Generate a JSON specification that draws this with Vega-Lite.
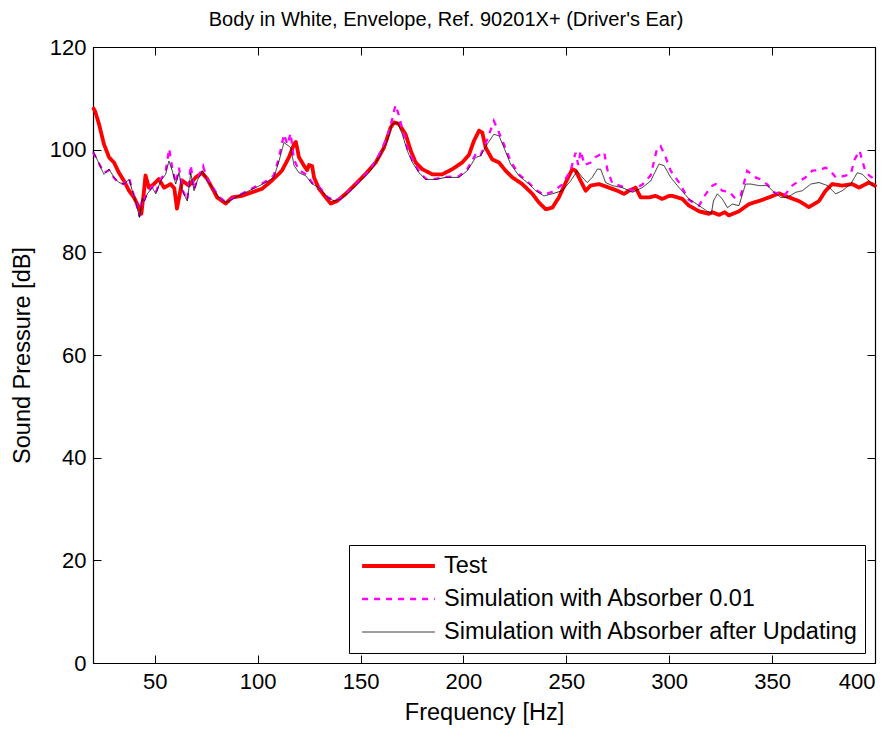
{
  "$schema": "https://vega.github.io/schema/vega-lite/v6.json",
  "autosize": {"type": "none"},
  "padding": {"left": 93, "top": 47, "right": 21, "bottom": 66},
  "width": 782,
  "height": 616,
  "background": "white",
  "title": {"text": "Body in White, Envelope, Ref. 90201X+ (Driver's Ear)", "fontSize": 20, "fontWeight": "normal", "font": "Liberation Sans", "color": "black", "offset": 6, "dx": -38},
  "config": {
    "font": "Liberation Sans",
    "view": {"stroke": "black", "strokeWidth": 1},
    "axis": {"grid": false, "domainColor": "black", "tickColor": "black", "labelColor": "black", "titleColor": "black", "labelFontSize": 22, "titleFontSize": 23.5, "titleFontWeight": "normal", "labelFont": "Liberation Sans", "titleFont": "Liberation Sans", "tickSize": -8, "domainWidth": 1.2, "tickWidth": 1},
    "legend": {"rowPadding": 3, "clipHeight": 30, "padding": 6, "symbolOffset": 5, "labelFontSize": 23.5}
  },
  "datasets": {
    "curves": [
      {"s": "Test", "f": 20.3, "db": 108}, {"s": "Test", "f": 21, "db": 107.5}, {"s": "Test", "f": 22.9, "db": 105}, {"s": "Test", "f": 25.3, "db": 101.1}, {"s": "Test", "f": 27.8, "db": 98.5}, {"s": "Test", "f": 30.2, "db": 97.5}, {"s": "Test", "f": 32.6, "db": 95.5}, {"s": "Test", "f": 35.1, "db": 93.9}, {"s": "Test", "f": 37.5, "db": 92}, {"s": "Test", "f": 39.9, "db": 90.7}, {"s": "Test", "f": 42.4, "db": 88.7}, {"s": "Test", "f": 43.5, "db": 87.5}, {"s": "Test", "f": 44.8, "db": 92}, {"s": "Test", "f": 45.5, "db": 95}, {"s": "Test", "f": 47.2, "db": 92.6}, {"s": "Test", "f": 49.6, "db": 93.3}, {"s": "Test", "f": 52, "db": 94.3}, {"s": "Test", "f": 54.5, "db": 92.6}, {"s": "Test", "f": 57.7, "db": 93.3}, {"s": "Test", "f": 59.5, "db": 92.5}, {"s": "Test", "f": 60.8, "db": 88.5}, {"s": "Test", "f": 62, "db": 91}, {"s": "Test", "f": 63.3, "db": 94}, {"s": "Test", "f": 66.6, "db": 93}, {"s": "Test", "f": 69.9, "db": 94.6}, {"s": "Test", "f": 73, "db": 95.5}, {"s": "Test", "f": 75.5, "db": 94.3}, {"s": "Test", "f": 77.8, "db": 92.6}, {"s": "Test", "f": 80.3, "db": 90.7}, {"s": "Test", "f": 84.5, "db": 89.5}, {"s": "Test", "f": 87.6, "db": 90.7}, {"s": "Test", "f": 92.4, "db": 91}, {"s": "Test", "f": 97.3, "db": 91.7}, {"s": "Test", "f": 102.2, "db": 92.4}, {"s": "Test", "f": 107, "db": 94}, {"s": "Test", "f": 111.8, "db": 95.9}, {"s": "Test", "f": 115.2, "db": 98.5}, {"s": "Test", "f": 117.7, "db": 101.1}, {"s": "Test", "f": 118.6, "db": 101.5}, {"s": "Test", "f": 120.1, "db": 98.5}, {"s": "Test", "f": 122.5, "db": 96.9}, {"s": "Test", "f": 124, "db": 96}, {"s": "Test", "f": 125, "db": 97}, {"s": "Test", "f": 126.5, "db": 96.8}, {"s": "Test", "f": 127.4, "db": 94.6}, {"s": "Test", "f": 129.8, "db": 92.4}, {"s": "Test", "f": 133.1, "db": 90.7}, {"s": "Test", "f": 135.5, "db": 89.5}, {"s": "Test", "f": 138.6, "db": 90}, {"s": "Test", "f": 142.8, "db": 91.4}, {"s": "Test", "f": 147.6, "db": 93.3}, {"s": "Test", "f": 152.5, "db": 95.3}, {"s": "Test", "f": 157.4, "db": 97.5}, {"s": "Test", "f": 161.4, "db": 100.4}, {"s": "Test", "f": 164.6, "db": 104.3}, {"s": "Test", "f": 166.3, "db": 105.3}, {"s": "Test", "f": 168.7, "db": 105}, {"s": "Test", "f": 171.9, "db": 103}, {"s": "Test", "f": 174.4, "db": 99.8}, {"s": "Test", "f": 176.8, "db": 97.5}, {"s": "Test", "f": 180, "db": 96.2}, {"s": "Test", "f": 184.9, "db": 95.2}, {"s": "Test", "f": 189.7, "db": 95.2}, {"s": "Test", "f": 194.6, "db": 96.2}, {"s": "Test", "f": 199.4, "db": 97.5}, {"s": "Test", "f": 202.7, "db": 99}, {"s": "Test", "f": 205.1, "db": 101.7}, {"s": "Test", "f": 207.6, "db": 103.7}, {"s": "Test", "f": 209.2, "db": 103.3}, {"s": "Test", "f": 210.8, "db": 100.4}, {"s": "Test", "f": 214, "db": 98.1}, {"s": "Test", "f": 217.3, "db": 97.5}, {"s": "Test", "f": 220.5, "db": 95.9}, {"s": "Test", "f": 223.8, "db": 94.6}, {"s": "Test", "f": 228.6, "db": 93.3}, {"s": "Test", "f": 233.5, "db": 91.4}, {"s": "Test", "f": 236.7, "db": 89.7}, {"s": "Test", "f": 240, "db": 88.4}, {"s": "Test", "f": 243.2, "db": 88.7}, {"s": "Test", "f": 246.4, "db": 90.7}, {"s": "Test", "f": 249.7, "db": 93.6}, {"s": "Test", "f": 252.9, "db": 96.2}, {"s": "Test", "f": 254.5, "db": 95.9}, {"s": "Test", "f": 257, "db": 93.9}, {"s": "Test", "f": 259.4, "db": 92}, {"s": "Test", "f": 261.8, "db": 93}, {"s": "Test", "f": 265.9, "db": 93.3}, {"s": "Test", "f": 270.7, "db": 92.6}, {"s": "Test", "f": 274.8, "db": 92}, {"s": "Test", "f": 278, "db": 91.4}, {"s": "Test", "f": 280.5, "db": 92}, {"s": "Test", "f": 283.7, "db": 92.6}, {"s": "Test", "f": 286.1, "db": 90.7}, {"s": "Test", "f": 290.2, "db": 90.7}, {"s": "Test", "f": 293.4, "db": 91}, {"s": "Test", "f": 296.6, "db": 90.4}, {"s": "Test", "f": 299.9, "db": 91}, {"s": "Test", "f": 301.5, "db": 91}, {"s": "Test", "f": 306.4, "db": 90.4}, {"s": "Test", "f": 309.6, "db": 89.1}, {"s": "Test", "f": 314.5, "db": 88}, {"s": "Test", "f": 319.3, "db": 87.5}, {"s": "Test", "f": 321, "db": 87.8}, {"s": "Test", "f": 324.2, "db": 87.3}, {"s": "Test", "f": 327, "db": 87.8}, {"s": "Test", "f": 329, "db": 87.2}, {"s": "Test", "f": 333.9, "db": 88}, {"s": "Test", "f": 338.8, "db": 89.4}, {"s": "Test", "f": 343.6, "db": 90}, {"s": "Test", "f": 348.5, "db": 90.7}, {"s": "Test", "f": 353.3, "db": 91.5}, {"s": "Test", "f": 358.2, "db": 90.7}, {"s": "Test", "f": 363, "db": 90}, {"s": "Test", "f": 367.9, "db": 88.8}, {"s": "Test", "f": 372.8, "db": 90}, {"s": "Test", "f": 376, "db": 92}, {"s": "Test", "f": 379.2, "db": 93.3}, {"s": "Test", "f": 384.1, "db": 93}, {"s": "Test", "f": 389, "db": 93.3}, {"s": "Test", "f": 392.2, "db": 92.6}, {"s": "Test", "f": 397, "db": 93.6}, {"s": "Test", "f": 400, "db": 93},

      {"s": "Simulation with Absorber 0.01", "f": 20, "db": 99.5}, {"s": "Simulation with Absorber 0.01", "f": 22, "db": 98}, {"s": "Simulation with Absorber 0.01", "f": 25.3, "db": 95.5}, {"s": "Simulation with Absorber 0.01", "f": 27.8, "db": 96}, {"s": "Simulation with Absorber 0.01", "f": 30.2, "db": 94.5}, {"s": "Simulation with Absorber 0.01", "f": 32.6, "db": 93.5}, {"s": "Simulation with Absorber 0.01", "f": 35.1, "db": 93.3}, {"s": "Simulation with Absorber 0.01", "f": 37.5, "db": 94.5}, {"s": "Simulation with Absorber 0.01", "f": 39.1, "db": 92.2}, {"s": "Simulation with Absorber 0.01", "f": 41, "db": 89.5}, {"s": "Simulation with Absorber 0.01", "f": 42.6, "db": 87}, {"s": "Simulation with Absorber 0.01", "f": 44, "db": 90.8}, {"s": "Simulation with Absorber 0.01", "f": 45, "db": 90.3}, {"s": "Simulation with Absorber 0.01", "f": 46.4, "db": 91.6}, {"s": "Simulation with Absorber 0.01", "f": 48.8, "db": 92.8}, {"s": "Simulation with Absorber 0.01", "f": 50.5, "db": 91.6}, {"s": "Simulation with Absorber 0.01", "f": 52.9, "db": 94.2}, {"s": "Simulation with Absorber 0.01", "f": 55.3, "db": 95.8}, {"s": "Simulation with Absorber 0.01", "f": 57, "db": 100.2}, {"s": "Simulation with Absorber 0.01", "f": 58.5, "db": 96.5}, {"s": "Simulation with Absorber 0.01", "f": 60.2, "db": 93.5}, {"s": "Simulation with Absorber 0.01", "f": 61.8, "db": 96.5}, {"s": "Simulation with Absorber 0.01", "f": 63.4, "db": 92.2}, {"s": "Simulation with Absorber 0.01", "f": 65.8, "db": 90.2}, {"s": "Simulation with Absorber 0.01", "f": 67.5, "db": 97}, {"s": "Simulation with Absorber 0.01", "f": 69.1, "db": 92.2}, {"s": "Simulation with Absorber 0.01", "f": 70.7, "db": 94.2}, {"s": "Simulation with Absorber 0.01", "f": 73.5, "db": 96.8}, {"s": "Simulation with Absorber 0.01", "f": 75.5, "db": 94.2}, {"s": "Simulation with Absorber 0.01", "f": 78, "db": 92.8}, {"s": "Simulation with Absorber 0.01", "f": 81.2, "db": 90.8}, {"s": "Simulation with Absorber 0.01", "f": 84.5, "db": 89.8}, {"s": "Simulation with Absorber 0.01", "f": 89.3, "db": 90.8}, {"s": "Simulation with Absorber 0.01", "f": 94.2, "db": 91.8}, {"s": "Simulation with Absorber 0.01", "f": 99, "db": 92.8}, {"s": "Simulation with Absorber 0.01", "f": 103.9, "db": 93.8}, {"s": "Simulation with Absorber 0.01", "f": 107.9, "db": 95}, {"s": "Simulation with Absorber 0.01", "f": 110.4, "db": 98.5}, {"s": "Simulation with Absorber 0.01", "f": 112.8, "db": 103}, {"s": "Simulation with Absorber 0.01", "f": 114.5, "db": 101}, {"s": "Simulation with Absorber 0.01", "f": 116, "db": 103.2}, {"s": "Simulation with Absorber 0.01", "f": 117.7, "db": 98}, {"s": "Simulation with Absorber 0.01", "f": 120.1, "db": 96}, {"s": "Simulation with Absorber 0.01", "f": 123.4, "db": 95.2}, {"s": "Simulation with Absorber 0.01", "f": 126.6, "db": 93.5}, {"s": "Simulation with Absorber 0.01", "f": 129.8, "db": 92.8}, {"s": "Simulation with Absorber 0.01", "f": 133.9, "db": 90.8}, {"s": "Simulation with Absorber 0.01", "f": 137.1, "db": 90.1}, {"s": "Simulation with Absorber 0.01", "f": 140.4, "db": 90.5}, {"s": "Simulation with Absorber 0.01", "f": 145.2, "db": 92.2}, {"s": "Simulation with Absorber 0.01", "f": 150.1, "db": 94.2}, {"s": "Simulation with Absorber 0.01", "f": 154.9, "db": 96.2}, {"s": "Simulation with Absorber 0.01", "f": 159, "db": 99}, {"s": "Simulation with Absorber 0.01", "f": 163, "db": 102.5}, {"s": "Simulation with Absorber 0.01", "f": 165.4, "db": 106}, {"s": "Simulation with Absorber 0.01", "f": 167, "db": 108.7}, {"s": "Simulation with Absorber 0.01", "f": 168.7, "db": 106.6}, {"s": "Simulation with Absorber 0.01", "f": 170.3, "db": 104}, {"s": "Simulation with Absorber 0.01", "f": 172.7, "db": 100.5}, {"s": "Simulation with Absorber 0.01", "f": 175.2, "db": 98}, {"s": "Simulation with Absorber 0.01", "f": 178.4, "db": 95.8}, {"s": "Simulation with Absorber 0.01", "f": 181.7, "db": 94.3}, {"s": "Simulation with Absorber 0.01", "f": 186.5, "db": 94.3}, {"s": "Simulation with Absorber 0.01", "f": 191.4, "db": 94.7}, {"s": "Simulation with Absorber 0.01", "f": 197.8, "db": 94.8}, {"s": "Simulation with Absorber 0.01", "f": 201.9, "db": 96.2}, {"s": "Simulation with Absorber 0.01", "f": 206.5, "db": 99.5}, {"s": "Simulation with Absorber 0.01", "f": 208.4, "db": 99}, {"s": "Simulation with Absorber 0.01", "f": 211.6, "db": 102}, {"s": "Simulation with Absorber 0.01", "f": 214.8, "db": 105.6}, {"s": "Simulation with Absorber 0.01", "f": 217.3, "db": 103.3}, {"s": "Simulation with Absorber 0.01", "f": 219.7, "db": 101}, {"s": "Simulation with Absorber 0.01", "f": 222.9, "db": 97.8}, {"s": "Simulation with Absorber 0.01", "f": 227, "db": 95.2}, {"s": "Simulation with Absorber 0.01", "f": 231.9, "db": 93.5}, {"s": "Simulation with Absorber 0.01", "f": 235.1, "db": 92.2}, {"s": "Simulation with Absorber 0.01", "f": 239.1, "db": 91.2}, {"s": "Simulation with Absorber 0.01", "f": 243.2, "db": 91.8}, {"s": "Simulation with Absorber 0.01", "f": 248, "db": 93.2}, {"s": "Simulation with Absorber 0.01", "f": 252.1, "db": 96}, {"s": "Simulation with Absorber 0.01", "f": 254.5, "db": 99.4}, {"s": "Simulation with Absorber 0.01", "f": 255.8, "db": 97}, {"s": "Simulation with Absorber 0.01", "f": 257, "db": 99.8}, {"s": "Simulation with Absorber 0.01", "f": 258.8, "db": 97}, {"s": "Simulation with Absorber 0.01", "f": 261.8, "db": 97.5}, {"s": "Simulation with Absorber 0.01", "f": 264, "db": 98.5}, {"s": "Simulation with Absorber 0.01", "f": 268.4, "db": 99.5}, {"s": "Simulation with Absorber 0.01", "f": 270, "db": 96}, {"s": "Simulation with Absorber 0.01", "f": 272.3, "db": 93.5}, {"s": "Simulation with Absorber 0.01", "f": 277.2, "db": 92.8}, {"s": "Simulation with Absorber 0.01", "f": 282.1, "db": 92}, {"s": "Simulation with Absorber 0.01", "f": 286.9, "db": 93.2}, {"s": "Simulation with Absorber 0.01", "f": 291, "db": 95}, {"s": "Simulation with Absorber 0.01", "f": 294.2, "db": 100.4}, {"s": "Simulation with Absorber 0.01", "f": 295.8, "db": 100.7}, {"s": "Simulation with Absorber 0.01", "f": 298, "db": 98.8}, {"s": "Simulation with Absorber 0.01", "f": 300.7, "db": 95.9}, {"s": "Simulation with Absorber 0.01", "f": 304.8, "db": 93.6}, {"s": "Simulation with Absorber 0.01", "f": 309.6, "db": 90.2}, {"s": "Simulation with Absorber 0.01", "f": 314.5, "db": 89.1}, {"s": "Simulation with Absorber 0.01", "f": 318, "db": 91.5}, {"s": "Simulation with Absorber 0.01", "f": 321, "db": 93}, {"s": "Simulation with Absorber 0.01", "f": 322.6, "db": 93.3}, {"s": "Simulation with Absorber 0.01", "f": 325.8, "db": 92}, {"s": "Simulation with Absorber 0.01", "f": 329.5, "db": 91.7}, {"s": "Simulation with Absorber 0.01", "f": 332, "db": 90.5}, {"s": "Simulation with Absorber 0.01", "f": 334.7, "db": 91}, {"s": "Simulation with Absorber 0.01", "f": 337.9, "db": 95.9}, {"s": "Simulation with Absorber 0.01", "f": 342, "db": 94.6}, {"s": "Simulation with Absorber 0.01", "f": 344.5, "db": 94.2}, {"s": "Simulation with Absorber 0.01", "f": 347.7, "db": 93.2}, {"s": "Simulation with Absorber 0.01", "f": 350.9, "db": 91.7}, {"s": "Simulation with Absorber 0.01", "f": 355.8, "db": 91}, {"s": "Simulation with Absorber 0.01", "f": 359.8, "db": 93}, {"s": "Simulation with Absorber 0.01", "f": 363, "db": 93.9}, {"s": "Simulation with Absorber 0.01", "f": 366, "db": 94.5}, {"s": "Simulation with Absorber 0.01", "f": 369.5, "db": 95.9}, {"s": "Simulation with Absorber 0.01", "f": 373, "db": 96}, {"s": "Simulation with Absorber 0.01", "f": 376, "db": 96.5}, {"s": "Simulation with Absorber 0.01", "f": 378.5, "db": 95.8}, {"s": "Simulation with Absorber 0.01", "f": 380.9, "db": 94.6}, {"s": "Simulation with Absorber 0.01", "f": 384.1, "db": 94.8}, {"s": "Simulation with Absorber 0.01", "f": 388.2, "db": 95.2}, {"s": "Simulation with Absorber 0.01", "f": 390.1, "db": 98.1}, {"s": "Simulation with Absorber 0.01", "f": 392.5, "db": 99.8}, {"s": "Simulation with Absorber 0.01", "f": 395, "db": 96.2}, {"s": "Simulation with Absorber 0.01", "f": 397.1, "db": 95}, {"s": "Simulation with Absorber 0.01", "f": 400, "db": 94.2},

      {"s": "Simulation with Absorber after Updating", "f": 20, "db": 99.8}, {"s": "Simulation with Absorber after Updating", "f": 22, "db": 98.1}, {"s": "Simulation with Absorber after Updating", "f": 25.3, "db": 95.2}, {"s": "Simulation with Absorber after Updating", "f": 27.8, "db": 96.2}, {"s": "Simulation with Absorber after Updating", "f": 30.2, "db": 94.6}, {"s": "Simulation with Absorber after Updating", "f": 32.6, "db": 93.6}, {"s": "Simulation with Absorber after Updating", "f": 35.1, "db": 93.3}, {"s": "Simulation with Absorber after Updating", "f": 37.5, "db": 94.2}, {"s": "Simulation with Absorber after Updating", "f": 39.1, "db": 92}, {"s": "Simulation with Absorber after Updating", "f": 41, "db": 89.5}, {"s": "Simulation with Absorber after Updating", "f": 42.6, "db": 86.8}, {"s": "Simulation with Absorber after Updating", "f": 44, "db": 90.5}, {"s": "Simulation with Absorber after Updating", "f": 45, "db": 90}, {"s": "Simulation with Absorber after Updating", "f": 46.4, "db": 91.4}, {"s": "Simulation with Absorber after Updating", "f": 48.8, "db": 92.6}, {"s": "Simulation with Absorber after Updating", "f": 50.5, "db": 91.4}, {"s": "Simulation with Absorber after Updating", "f": 52.9, "db": 93.9}, {"s": "Simulation with Absorber after Updating", "f": 55.3, "db": 95.2}, {"s": "Simulation with Absorber after Updating", "f": 56.9, "db": 97.8}, {"s": "Simulation with Absorber after Updating", "f": 58.5, "db": 95.9}, {"s": "Simulation with Absorber after Updating", "f": 60.2, "db": 93.3}, {"s": "Simulation with Absorber after Updating", "f": 61.8, "db": 95.5}, {"s": "Simulation with Absorber after Updating", "f": 63.4, "db": 92}, {"s": "Simulation with Absorber after Updating", "f": 65.8, "db": 90}, {"s": "Simulation with Absorber after Updating", "f": 67.5, "db": 95.5}, {"s": "Simulation with Absorber after Updating", "f": 69.1, "db": 92}, {"s": "Simulation with Absorber after Updating", "f": 70.7, "db": 94}, {"s": "Simulation with Absorber after Updating", "f": 73.1, "db": 95.9}, {"s": "Simulation with Absorber after Updating", "f": 75.5, "db": 94}, {"s": "Simulation with Absorber after Updating", "f": 78, "db": 92.6}, {"s": "Simulation with Absorber after Updating", "f": 81.2, "db": 90.7}, {"s": "Simulation with Absorber after Updating", "f": 84.5, "db": 89.7}, {"s": "Simulation with Absorber after Updating", "f": 89.3, "db": 90.7}, {"s": "Simulation with Absorber after Updating", "f": 94.2, "db": 91.7}, {"s": "Simulation with Absorber after Updating", "f": 99, "db": 92.6}, {"s": "Simulation with Absorber after Updating", "f": 103.9, "db": 93.6}, {"s": "Simulation with Absorber after Updating", "f": 107.9, "db": 94.6}, {"s": "Simulation with Absorber after Updating", "f": 110.4, "db": 97.8}, {"s": "Simulation with Absorber after Updating", "f": 112.8, "db": 101.4}, {"s": "Simulation with Absorber after Updating", "f": 116.1, "db": 100.4}, {"s": "Simulation with Absorber after Updating", "f": 117.7, "db": 96.9}, {"s": "Simulation with Absorber after Updating", "f": 120.1, "db": 95.5}, {"s": "Simulation with Absorber after Updating", "f": 123.4, "db": 94.9}, {"s": "Simulation with Absorber after Updating", "f": 126.6, "db": 93.3}, {"s": "Simulation with Absorber after Updating", "f": 129.8, "db": 92.6}, {"s": "Simulation with Absorber after Updating", "f": 133.9, "db": 90.7}, {"s": "Simulation with Absorber after Updating", "f": 137.1, "db": 90}, {"s": "Simulation with Absorber after Updating", "f": 140.4, "db": 90.4}, {"s": "Simulation with Absorber after Updating", "f": 145.2, "db": 92}, {"s": "Simulation with Absorber after Updating", "f": 150.1, "db": 94}, {"s": "Simulation with Absorber after Updating", "f": 154.9, "db": 95.9}, {"s": "Simulation with Absorber after Updating", "f": 159, "db": 98.5}, {"s": "Simulation with Absorber after Updating", "f": 163, "db": 101.7}, {"s": "Simulation with Absorber after Updating", "f": 165.4, "db": 105}, {"s": "Simulation with Absorber after Updating", "f": 167.9, "db": 105.3}, {"s": "Simulation with Absorber after Updating", "f": 170.3, "db": 103}, {"s": "Simulation with Absorber after Updating", "f": 172.7, "db": 99.8}, {"s": "Simulation with Absorber after Updating", "f": 175.2, "db": 97.5}, {"s": "Simulation with Absorber after Updating", "f": 178.4, "db": 95.5}, {"s": "Simulation with Absorber after Updating", "f": 181.7, "db": 94.2}, {"s": "Simulation with Absorber after Updating", "f": 186.5, "db": 94.2}, {"s": "Simulation with Absorber after Updating", "f": 191.4, "db": 94.6}, {"s": "Simulation with Absorber after Updating", "f": 197.8, "db": 94.6}, {"s": "Simulation with Absorber after Updating", "f": 201.9, "db": 95.9}, {"s": "Simulation with Absorber after Updating", "f": 206, "db": 98.5}, {"s": "Simulation with Absorber after Updating", "f": 208.4, "db": 98.8}, {"s": "Simulation with Absorber after Updating", "f": 211.6, "db": 101.1}, {"s": "Simulation with Absorber after Updating", "f": 214.8, "db": 103}, {"s": "Simulation with Absorber after Updating", "f": 217.3, "db": 102.7}, {"s": "Simulation with Absorber after Updating", "f": 219.7, "db": 100.4}, {"s": "Simulation with Absorber after Updating", "f": 222.9, "db": 97.2}, {"s": "Simulation with Absorber after Updating", "f": 227, "db": 94.9}, {"s": "Simulation with Absorber after Updating", "f": 231.9, "db": 93.3}, {"s": "Simulation with Absorber after Updating", "f": 235.1, "db": 92}, {"s": "Simulation with Absorber after Updating", "f": 239.1, "db": 91}, {"s": "Simulation with Absorber after Updating", "f": 243.2, "db": 91.4}, {"s": "Simulation with Absorber after Updating", "f": 248, "db": 92}, {"s": "Simulation with Absorber after Updating", "f": 252.1, "db": 93.9}, {"s": "Simulation with Absorber after Updating", "f": 255.3, "db": 95.9}, {"s": "Simulation with Absorber after Updating", "f": 257.8, "db": 94.6}, {"s": "Simulation with Absorber after Updating", "f": 260.2, "db": 93.6}, {"s": "Simulation with Absorber after Updating", "f": 262.6, "db": 94.6}, {"s": "Simulation with Absorber after Updating", "f": 265.1, "db": 96.2}, {"s": "Simulation with Absorber after Updating", "f": 266.7, "db": 96.2}, {"s": "Simulation with Absorber after Updating", "f": 269.1, "db": 93.6}, {"s": "Simulation with Absorber after Updating", "f": 272.3, "db": 93}, {"s": "Simulation with Absorber after Updating", "f": 277.2, "db": 92.6}, {"s": "Simulation with Absorber after Updating", "f": 282.1, "db": 91.7}, {"s": "Simulation with Absorber after Updating", "f": 286.9, "db": 92.6}, {"s": "Simulation with Absorber after Updating", "f": 291, "db": 93.9}, {"s": "Simulation with Absorber after Updating", "f": 295, "db": 97.2}, {"s": "Simulation with Absorber after Updating", "f": 297.5, "db": 96.9}, {"s": "Simulation with Absorber after Updating", "f": 300.7, "db": 94.6}, {"s": "Simulation with Absorber after Updating", "f": 304.8, "db": 92.6}, {"s": "Simulation with Absorber after Updating", "f": 309.6, "db": 90.4}, {"s": "Simulation with Absorber after Updating", "f": 314.5, "db": 89.1}, {"s": "Simulation with Absorber after Updating", "f": 318.5, "db": 88}, {"s": "Simulation with Absorber after Updating", "f": 320.5, "db": 87.6}, {"s": "Simulation with Absorber after Updating", "f": 321.5, "db": 90}, {"s": "Simulation with Absorber after Updating", "f": 323.4, "db": 91.4}, {"s": "Simulation with Absorber after Updating", "f": 325.8, "db": 90.4}, {"s": "Simulation with Absorber after Updating", "f": 328.3, "db": 88.7}, {"s": "Simulation with Absorber after Updating", "f": 330.7, "db": 89.4}, {"s": "Simulation with Absorber after Updating", "f": 333.9, "db": 89.1}, {"s": "Simulation with Absorber after Updating", "f": 337.1, "db": 93.3}, {"s": "Simulation with Absorber after Updating", "f": 339.6, "db": 93.3}, {"s": "Simulation with Absorber after Updating", "f": 343.6, "db": 93}, {"s": "Simulation with Absorber after Updating", "f": 347.7, "db": 93}, {"s": "Simulation with Absorber after Updating", "f": 350.9, "db": 91.7}, {"s": "Simulation with Absorber after Updating", "f": 354.2, "db": 90.7}, {"s": "Simulation with Absorber after Updating", "f": 357.4, "db": 90.7}, {"s": "Simulation with Absorber after Updating", "f": 361.5, "db": 91.7}, {"s": "Simulation with Absorber after Updating", "f": 364.7, "db": 92}, {"s": "Simulation with Absorber after Updating", "f": 368.8, "db": 93.3}, {"s": "Simulation with Absorber after Updating", "f": 372.8, "db": 93.6}, {"s": "Simulation with Absorber after Updating", "f": 376.9, "db": 93}, {"s": "Simulation with Absorber after Updating", "f": 380.9, "db": 91.4}, {"s": "Simulation with Absorber after Updating", "f": 384.1, "db": 92}, {"s": "Simulation with Absorber after Updating", "f": 388.2, "db": 93.3}, {"s": "Simulation with Absorber after Updating", "f": 391.4, "db": 95.5}, {"s": "Simulation with Absorber after Updating", "f": 393.9, "db": 95.2}, {"s": "Simulation with Absorber after Updating", "f": 397.1, "db": 93.9}, {"s": "Simulation with Absorber after Updating", "f": 400, "db": 92.6}
    ]
  },
  "data": {"name": "curves"},
  "encoding": {
    "x": {"field": "f", "type": "quantitative", "scale": {"domain": [20, 400], "nice": false, "zero": false}},
    "y": {"field": "db", "type": "quantitative", "scale": {"domain": [0, 120], "nice": false}},
    "color": {"field": "s", "type": "nominal", "scale": {"domain": ["Test", "Simulation with Absorber 0.01", "Simulation with Absorber after Updating"], "range": ["#ff0000", "#ff00ff", "#000000"]},
      "legend": {"title": null, "orient": "none", "legendX": 256, "legendY": 498, "symbolType": "stroke", "symbolSize": 5300, "labelFontSize": 23.5, "labelFont": "Liberation Sans", "labelColor": "black", "labelLimit": 0, "strokeColor": "black", "fillColor": "white", "padding": 6, "rowPadding": 3, "clipHeight": 30, "symbolOffset": 5, "labelOffset": 7}},
    "strokeDash": {"field": "s", "type": "nominal", "scale": {"domain": ["Test", "Simulation with Absorber 0.01", "Simulation with Absorber after Updating"], "range": [[1, 0], [6, 6], [1, 0]]}, "legend": {"title": null}},
    "strokeWidth": {"field": "s", "type": "nominal", "scale": {"domain": ["Test", "Simulation with Absorber 0.01", "Simulation with Absorber after Updating"], "range": [3.8, 0.8, 0.9]}, "legend": {"title": null}}
  },
  "layer": [
    {
      "transform": [{"filter": "datum.s === 'Test'"}],
      "mark": {"type": "line", "strokeJoin": "round", "strokeCap": "round"},
      "encoding": {
        "x": {"field": "f", "type": "quantitative", "axis": {"title": "Frequency [Hz]", "values": [50, 100, 150, 200, 250, 300, 350, 400], "labelFontSize": 22, "titleFontSize": 23.5, "labelPadding": 16, "titlePadding": 8}},
        "y": {"field": "db", "type": "quantitative", "axis": {"title": "Sound Pressure [dB]", "values": [0, 20, 40, 60, 80, 100, 120], "labelFontSize": 22, "titleFontSize": 23.5, "labelPadding": 15, "titlePadding": 15}}
      }
    },
    {
      "transform": [{"filter": "datum.s === 'Simulation with Absorber 0.01'"}],
      "mark": {"type": "line"},
      "encoding": {
        "x": {"field": "f", "type": "quantitative", "axis": {"orient": "top", "title": null, "labels": false, "values": [50, 100, 150, 200, 250, 300, 350, 400]}},
        "y": {"field": "db", "type": "quantitative", "axis": {"orient": "right", "title": null, "labels": false, "values": [0, 20, 40, 60, 80, 100, 120]}}
      }
    },
    {
      "transform": [{"filter": "datum.s === 'Simulation with Absorber after Updating'"}],
      "mark": {"type": "line"},
      "encoding": {
        "x": {"field": "f", "type": "quantitative", "axis": null},
        "y": {"field": "db", "type": "quantitative", "axis": null}
      }
    }
  ],
  "resolve": {"axis": {"x": "independent", "y": "independent"}}
}
